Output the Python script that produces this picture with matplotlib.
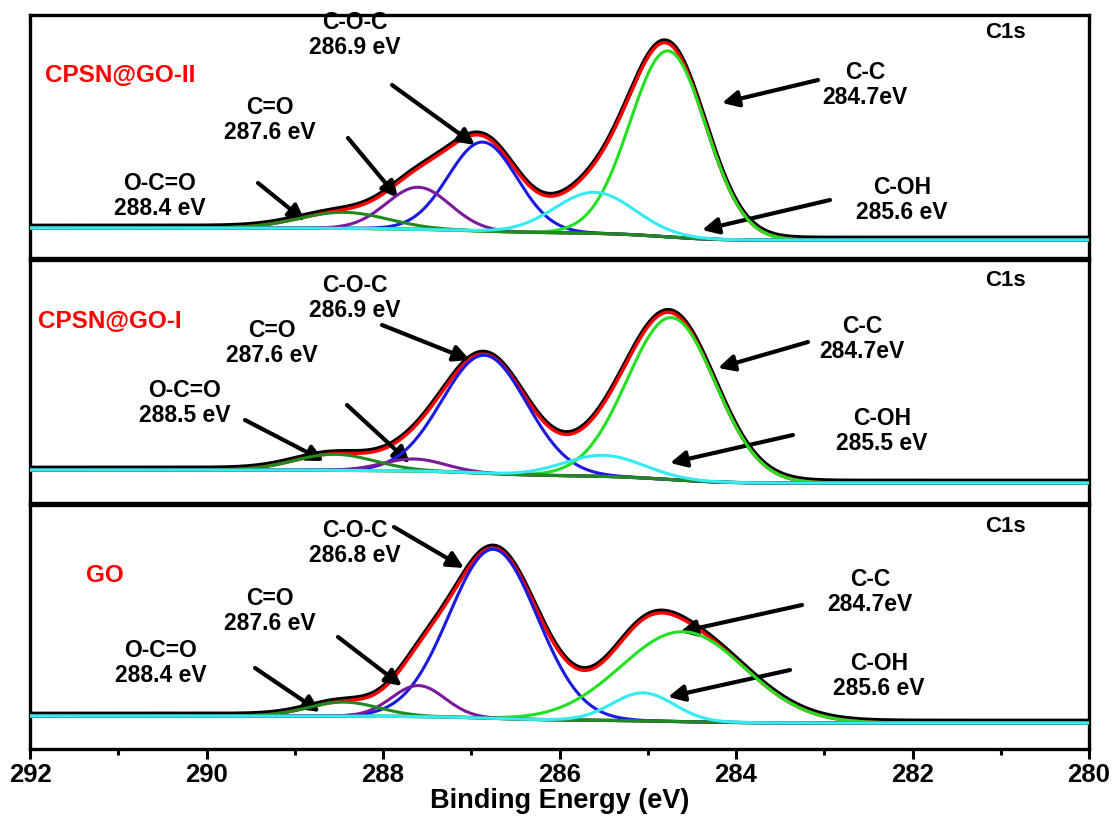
import numpy as np
import matplotlib
matplotlib.use("Agg")
import matplotlib.pyplot as plt
from math import erf, sqrt

plt.rcParams['font.family'] = ['Liberation Sans', 'DejaVu Sans']
plt.rcParams['font.weight'] = 'bold'

# fitted C1s components: (label, centre eV, height, sigma eV)
components = ['C-C', 'C-OH', 'C-O-C', 'C=O', 'O-C=O']
colors = ['#22e022', '#33eaf5', '#1a1ae0', '#7a1a9a', '#1f8a1f']

go2_center = [284.77, 285.6, 286.87, 287.6, 288.45]
go2_height = [186, 41, 89, 42, 16]
go2_sigma = [0.43, 0.45, 0.39, 0.36, 0.5]
go2_bg = (18, 30)

go1_center = [284.73, 285.5, 286.85, 287.65, 288.55]
go1_height = [162, 21, 118, 12, 16]
go1_sigma = [0.5, 0.45, 0.48, 0.35, 0.45]
go1_bg = (20, 33)

go_center = [284.6, 285.05, 286.75, 287.6, 288.45]
go_height = [90, 28, 169, 31, 14]
go_sigma = [0.7, 0.35, 0.5, 0.3, 0.4]
go_bg = (26, 33)

samples = ['CPSN@GO-II', 'CPSN@GO-I', 'GO']
fits = [(go2_center, go2_height, go2_sigma, go2_bg),
        (go1_center, go1_height, go1_sigma, go1_bg),
        (go_center, go_height, go_sigma, go_bg)]

# annotation text: (text, text pos px, arrow tail px, arrow head px)
notes = [
    [('C-O-C\n286.9 eV', (355, 35), (392, 85), (475, 145)),
     ('C=O\n287.6 eV', (270, 120), (348, 138), (398, 198)),
     ('O-C=O\n288.4 eV', (160, 196), (258, 183), (305, 221)),
     ('C-C\n284.7eV', (865, 85), (818, 80), (722, 103)),
     ('C-OH\n285.6 eV', (902, 200), (830, 200), (702, 230))],
    [('C-O-C\n286.9 eV', (355, 298), (382, 325), (470, 360)),
     ('C=O\n287.6 eV', (272, 343), (347, 405), (410, 463)),
     ('O-C=O\n288.5 eV', (185, 403), (245, 420), (324, 461)),
     ('C-C\n284.7eV', (862, 339), (808, 342), (718, 368)),
     ('C-OH\n285.5 eV', (882, 431), (793, 435), (670, 463))],
    [('C-O-C\n286.8 eV', (355, 543), (394, 527), (464, 568)),
     ('C=O\n287.6 eV', (270, 611), (338, 637), (402, 686)),
     ('O-C=O\n288.4 eV', (161, 663), (255, 668), (320, 712)),
     ('C-C\n284.7eV', (870, 592), (802, 605), (680, 632)),
     ('C-OH\n285.6 eV', (879, 676), (790, 670), (668, 697))],
]
sample_pos = [(120, 76), (110, 322), (105, 575)]
c1s_pos = [(1005, 33), (1005, 280), (1005, 527)]

W, H = 1113, 816
fig = plt.figure(figsize=(W / 100, H / 100), dpi=100)

def fxy(p):
    return (p[0] / W, 1 - p[1] / H)

panels = [(15, 258), (260, 503), (505, 749)]
x = np.linspace(292, 280, 1200)

for i, (cen, hgt, sig, bg) in enumerate(fits):
    top, bot = panels[i]
    ax = fig.add_axes([30 / W, 1 - bot / H, 1059 / W, (bot - top) / H])
    peaks = [h * np.exp(-(x - c) ** 2 / (2 * s ** 2)) for c, h, s in zip(cen, hgt, sig)]
    # Shirley-like step background
    cum = np.zeros_like(x)
    for c, h, s in zip(cen, hgt, sig):
        cum += h * s * np.array([0.5 * (1 + erf((e - c) / (sqrt(2) * s))) for e in x])
    cum /= cum.max()
    back = bg[0] + (bg[1] - bg[0]) * cum
    env = back + sum(peaks)

    ax.plot(x, env + 2, color='black', lw=3.4, zorder=2)
    ax.plot(x, env, color='red', lw=2.4, zorder=3)
    ax.plot(x, back, color='#0f6a0f', lw=2.4, zorder=3)
    order = [2, 0, 3, 4, 1]
    for k in order:
        ax.plot(x, back + peaks[k], color=colors[k], lw=2.2, zorder=4 + (k == 1))

    ax.set_xlim(292, 280)
    ax.set_ylim(0, bot - top)
    ax.set_yticks([])
    for sp in ax.spines.values():
        sp.set_linewidth(2.4)
    if i < 2:
        ax.set_xticks([])
    else:
        ax.set_xticks(np.arange(292, 279, -2))
        ax.set_xticks(np.arange(291, 280, -2), minor=True)
        ax.tick_params(axis='x', which='major', direction='out', length=7, width=2.2,
                       labelsize=18.5, pad=3)
        ax.tick_params(axis='x', which='minor', direction='out', length=4, width=2.2)
        for lb in ax.get_xticklabels():
            lb.set_fontweight('bold')
        ax.set_xlabel('Binding Energy (eV)', fontsize=19.5, fontweight='bold', labelpad=1)

    fig.text(*fxy(sample_pos[i]), samples[i], color='red', fontsize=17.5,
             fontweight='bold', ha='center', va='center')
    fig.text(*fxy(c1s_pos[i]), 'C1s', fontsize=16, fontweight='bold',
             ha='center', va='center')
    for txt, tp, tail, head in notes[i]:
        fig.text(*fxy(tp), txt, fontsize=16.5, fontweight='bold', ha='center',
                 va='center', linespacing=1.12)
        ax.annotate('', xy=fxy(head), xytext=fxy(tail), xycoords='figure fraction',
                    textcoords='figure fraction',
                    arrowprops=dict(arrowstyle='-|>', color='black', lw=3,
                                    mutation_scale=24, shrinkA=0, shrinkB=0))

fig.savefig('out.png', dpi=100)
